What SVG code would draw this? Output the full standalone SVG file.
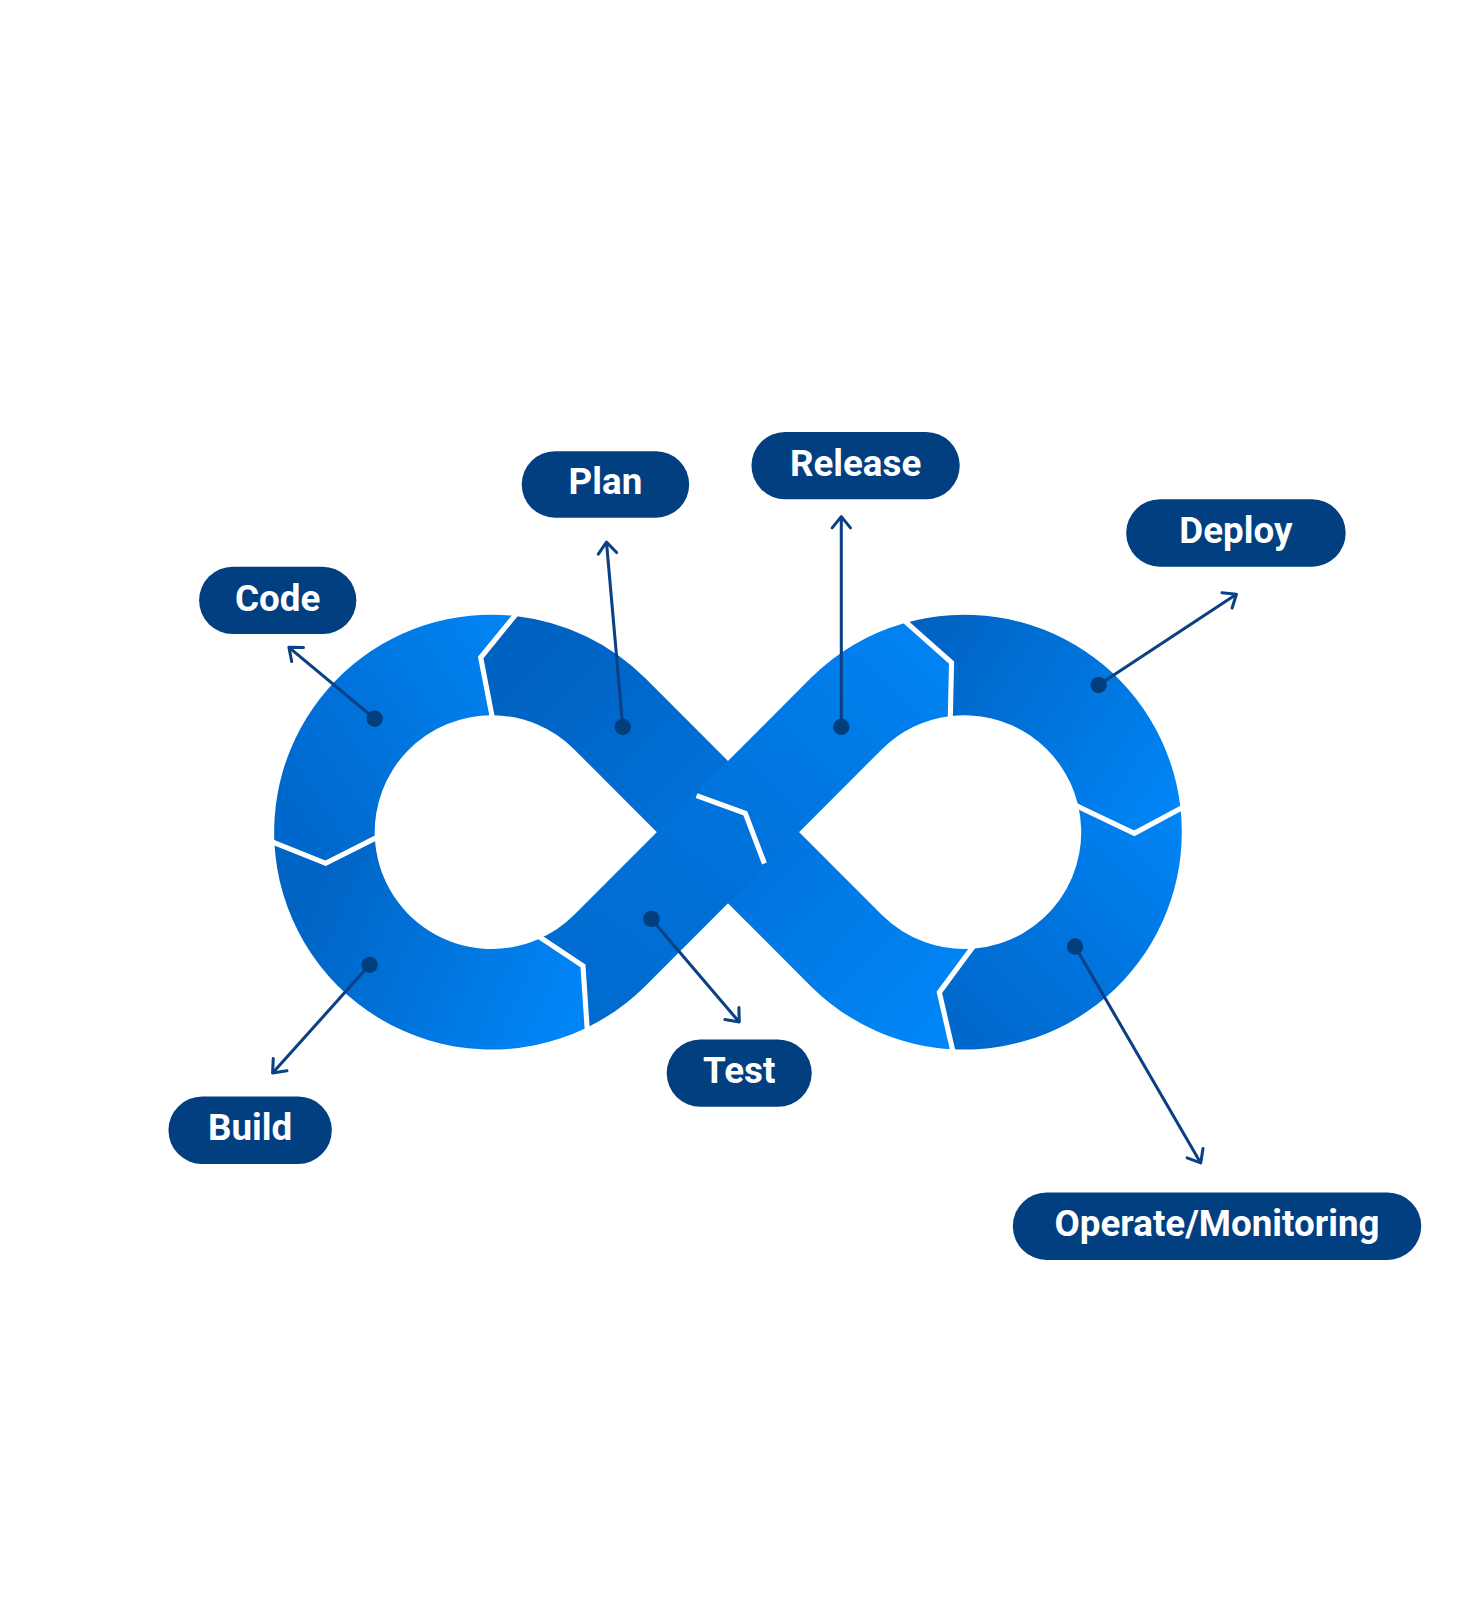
<svg xmlns="http://www.w3.org/2000/svg" width="1476" height="1600" viewBox="0 0 1476 1600">
  <defs>
    <linearGradient id="gCode" gradientUnits="userSpaceOnUse" x1="280" y1="780" x2="490" y2="640"><stop offset="0" stop-color="#0068CC"/><stop offset="1" stop-color="#0082F0"/></linearGradient>
    <linearGradient id="gPlan" gradientUnits="userSpaceOnUse" x1="520" y1="630" x2="700" y2="800"><stop offset="0" stop-color="#0062C0"/><stop offset="1" stop-color="#0071DA"/></linearGradient>
    <linearGradient id="gBuild" gradientUnits="userSpaceOnUse" x1="300" y1="880" x2="560" y2="990"><stop offset="0" stop-color="#0064C4"/><stop offset="1" stop-color="#0085F6"/></linearGradient>
    <linearGradient id="gTest" gradientUnits="userSpaceOnUse" x1="590" y1="1000" x2="720" y2="820"><stop offset="0" stop-color="#006BCF"/><stop offset="1" stop-color="#0072DB"/></linearGradient>
    <linearGradient id="gRelease" gradientUnits="userSpaceOnUse" x1="720" y1="820" x2="900" y2="640"><stop offset="0" stop-color="#0072DB"/><stop offset="1" stop-color="#0082F0"/></linearGradient>
    <linearGradient id="gDeploy" gradientUnits="userSpaceOnUse" x1="900" y1="630" x2="1150" y2="790"><stop offset="0" stop-color="#0063C2"/><stop offset="1" stop-color="#0085F6"/></linearGradient>
    <linearGradient id="gOperate" gradientUnits="userSpaceOnUse" x1="1150" y1="800" x2="940" y2="1000"><stop offset="0" stop-color="#0083F3"/><stop offset="1" stop-color="#0068CC"/></linearGradient>
    <linearGradient id="gMon" gradientUnits="userSpaceOnUse" x1="720" y1="830" x2="930" y2="1020"><stop offset="0" stop-color="#0072DB"/><stop offset="1" stop-color="#0087F8"/></linearGradient>
    <marker id="arr" markerUnits="userSpaceOnUse" viewBox="-14 -12 16 24" refX="0" refY="0" markerWidth="16" markerHeight="24" orient="auto" overflow="visible">
      <path d="M-11,-9 L0,0 L-11,9" fill="none" stroke="#0B4184" stroke-width="3" stroke-linecap="round" stroke-linejoin="round"/>
    </marker>
  </defs>
  <style>
    .div { fill: none; stroke: #FFFFFF; stroke-width: 5; stroke-linejoin: miter; stroke-linecap: butt; }
    .pill { fill: #013F80; }
    .lbl { fill: #FFFFFF; font-family: Roboto, "Liberation Sans", sans-serif; font-weight: 700; font-size: 36px; text-anchor: middle; }
    .con { fill: none; stroke: #0B4184; stroke-width: 3; marker-end: url(#arr); }
    .dot { fill: #013E7C; }
  </style>
  <g transform="scale(1.021)">
    <g id="infinity">
      <path id="seg-plan" fill="url(#gPlan)" d="M506.5,603.5 A213,213 0 0 1 632.11,664.39 L747.83,780.17 L678.17,849.83 L562.46,734.04 A114.5,114.5 0 0 0 482.5,700.5 L470.8,644 Z"/>
      <path id="seg-monitor" fill="url(#gMon)" d="M934.02,1027.74 A213,213 0 0 1 793.89,965.61 L678.17,849.83 L747.83,780.17 L863.54,895.96 A114.5,114.5 0 0 0 954.92,929.03 L920,972 Z"/>
      <path id="seg-code" fill="url(#gCode)" d="M268.7,823.7 A213,213 0 0 1 506.5,603.5 L470.8,644 L482.5,700.5 A114.5,114.5 0 0 0 367.1,819.4 L319,845.5 Z"/>
      <path id="seg-build" fill="url(#gBuild)" d="M268.7,823.7 A213,213 0 0 0 573.56,1007.08 L571,946 L527.76,919.74 A114.5,114.5 0 0 1 367.1,819.4 L319,845.5 Z"/>
      <path id="seg-deploy" fill="url(#gDeploy)" d="M885.4,610.4 A213,213 0 0 1 1156.06,790.26 L1111,816.2 L1055.5,787 A114.5,114.5 0 0 0 930.17,701.4 L932,649 Z"/>
      <path id="seg-operate" fill="url(#gOperate)" d="M1156.06,790.26 A213,213 0 0 1 934.02,1027.74 L920,972 L954.92,929.03 A114.5,114.5 0 0 0 1055.5,787 L1111,816.2 Z"/>
      <path id="seg-test" fill="url(#gTest)" d="M573.56,1007.08 A213,213 0 0 0 632.11,965.61 L750.3,847.35 L729.97,796.62 L680.65,777.7 L562.46,895.96 A114.5,114.5 0 0 1 527.76,919.74 L571,946 Z"/>
      <path id="seg-release" fill="url(#gRelease)" d="M680.65,777.7 L729.97,796.62 L750.3,847.35 L863.54,734.04 A114.5,114.5 0 0 1 930.17,701.4 L932,649 L885.4,610.4 A213,213 0 0 0 793.89,664.39 Z"/>
      <g id="dividers">
        <polyline class="div" points="507,599.5 470.8,644 482.5,704.5"/>
        <polyline class="div" points="264.7,823.9 319,845.5 371.1,819.2"/>
        <polyline class="div" points="526.1,916.1 571,946 575.3,1010.7"/>
        <polyline class="div" points="682.24,779.29 729.97,796.62 748.71,845.76"/>
        <polyline class="div" points="884.3,606.6 932,649 930.7,705.4"/>
        <polyline class="div" points="1051.6,788 1111,816.2 1160,789.8"/>
        <polyline class="div" points="954.6,925 920,972 933.8,1031.7"/>
      </g>
    </g>
    <g id="connectors">
      <line class="con" x1="367" y1="704" x2="283" y2="634"/>
      <line class="con" x1="610" y1="712" x2="594" y2="531"/>
      <line class="con" x1="824" y1="712" x2="824" y2="506"/>
      <line class="con" x1="1076" y1="671" x2="1211" y2="582"/>
      <line class="con" x1="362" y1="945" x2="267" y2="1051"/>
      <line class="con" x1="638" y1="900" x2="724" y2="1001"/>
      <line class="con" x1="1053" y1="927" x2="1176" y2="1139"/>
      <circle class="dot" cx="367" cy="704" r="8"/>
      <circle class="dot" cx="610" cy="712" r="8"/>
      <circle class="dot" cx="824" cy="712" r="8"/>
      <circle class="dot" cx="1076" cy="671" r="8"/>
      <circle class="dot" cx="362" cy="945" r="8"/>
      <circle class="dot" cx="638" cy="900" r="8"/>
      <circle class="dot" cx="1053" cy="927" r="8"/>
    </g>
    <g id="node-code"><rect class="pill" x="195" y="555" width="154" height="66" rx="33"/><text class="lbl" x="272" y="598">Code</text></g>
    <g id="node-plan"><rect class="pill" x="511" y="442" width="164" height="65" rx="32.5"/><text class="lbl" x="593" y="484">Plan</text></g>
    <g id="node-release"><rect class="pill" x="736" y="423" width="204" height="66" rx="33"/><text class="lbl" x="838" y="466">Release</text></g>
    <g id="node-deploy"><rect class="pill" x="1103" y="489" width="215" height="66" rx="33"/><text class="lbl" x="1210.5" y="532">Deploy</text></g>
    <g id="node-build"><rect class="pill" x="165" y="1074" width="160" height="66" rx="33"/><text class="lbl" x="245" y="1117">Build</text></g>
    <g id="node-test"><rect class="pill" x="653" y="1018" width="142" height="66" rx="33"/><text class="lbl" x="724" y="1061">Test</text></g>
    <g id="node-operate"><rect class="pill" x="992" y="1168" width="400" height="66" rx="33"/><text class="lbl" x="1192" y="1211">Operate/Monitoring</text></g>
  </g>
</svg>
